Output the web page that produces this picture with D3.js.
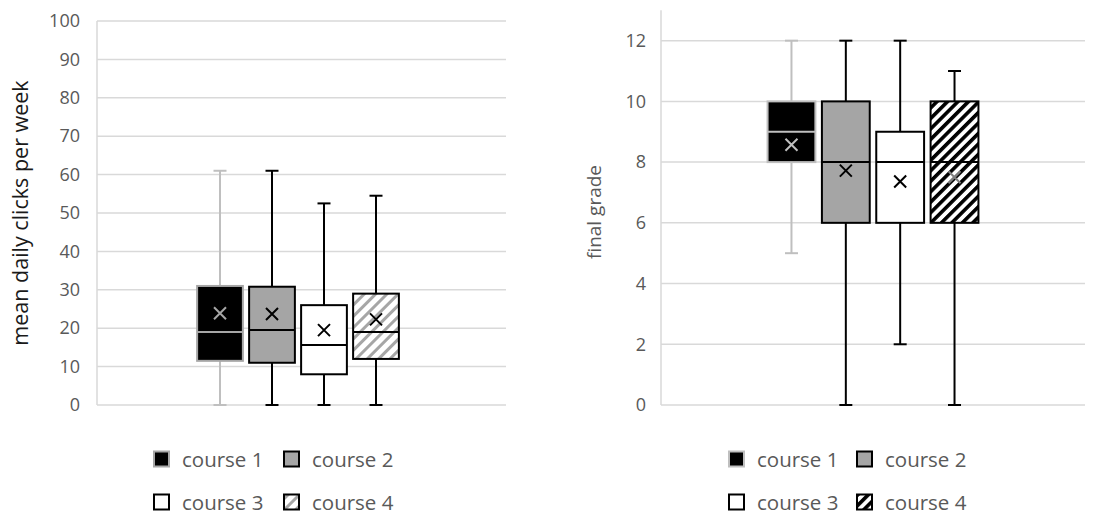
<!DOCTYPE html>
<html>
<head>
<meta charset="utf-8">
<script src="https://cdn.jsdelivr.net/npm/d3@7"></script>
<style>
  html, body { margin: 0; padding: 0; background: #ffffff; }
  svg { display: block; font-family: "Open Sans", sans-serif; }
</style>
</head>
<body>
<svg id="chart" width="1099" height="515"></svg>
<script>
// ---------- data ----------
const courses = ["course 1", "course 2", "course 3", "course 4"];

const clicksMin    = [0, 0, 0, 0];
const clicksQ1     = [11.5, 11, 8, 12];
const clicksMedian = [19, 19.5, 15.6, 19];
const clicksQ3     = [31, 30.8, 26, 29];
const clicksMax    = [61, 61, 52.5, 54.5];
const clicksMean   = [23.9, 23.7, 19.5, 22.3];
const clicksTicks  = [0, 10, 20, 30, 40, 50, 60, 70, 80, 90, 100];

const gradeMin    = [5, 0, 2, 0];
const gradeQ1     = [8, 6, 6, 6];
const gradeMedian = [9, 8, 8, 8];
const gradeQ3     = [10, 10, 9, 10];
const gradeMax    = [12, 12, 12, 11];
const gradeMean   = [8.57, 7.72, 7.36, 7.5];
const gradeTicks  = [0, 2, 4, 6, 8, 10, 12];

// ---------- drawing ----------
const svg = d3.select("#chart");
const defs = svg.append("defs");

defs.append("pattern").attr("id", "hatchLight")
  .attr("patternUnits", "userSpaceOnUse").attr("width", 8).attr("height", 8)
  .attr("patternTransform", "rotate(45)")
  .call(p => {
    p.append("rect").attr("width", 8).attr("height", 8).attr("fill", "#ffffff");
    p.append("rect").attr("width", 3).attr("height", 8).attr("fill", "#a6a6a6");
  });
defs.append("pattern").attr("id", "hatchDark")
  .attr("patternUnits", "userSpaceOnUse").attr("width", 7.4).attr("height", 7.4)
  .attr("patternTransform", "rotate(45)")
  .call(p => {
    p.append("rect").attr("width", 7.4).attr("height", 7.4).attr("fill", "#ffffff");
    p.append("rect").attr("width", 3.6).attr("height", 7.4).attr("fill", "#000000");
  });

function panel(cfg) {
  const g = svg.append("g");
  const y = d3.scaleLinear().domain(cfg.domain).range([cfg.bottom, cfg.top]);
  const x = d3.scaleBand().domain(courses)
    .range([cfg.cx - cfg.half, cfg.cx + cfg.half])
    .paddingInner(0.12).paddingOuter(0.06);
  const bw = x.bandwidth();

  // gridlines
  g.append("g").selectAll("line").data(cfg.ticks).join("line")
    .attr("x1", cfg.left).attr("x2", cfg.right)
    .attr("y1", d => y(d)).attr("y2", d => y(d))
    .attr("stroke", "#d9d9d9").attr("stroke-width", 1.5);
  // vertical axis line
  g.append("line").attr("x1", cfg.left).attr("x2", cfg.left)
    .attr("y1", y(cfg.domain[1])).attr("y2", y(0))
    .attr("stroke", "#d9d9d9").attr("stroke-width", 1.5);

  // tick labels via d3 axis
  const axis = d3.axisLeft(y).tickValues(cfg.ticks).tickSize(0).tickPadding(0);
  const ag = g.append("g").attr("transform", `translate(${cfg.labelX},0)`).call(axis);
  ag.select(".domain").remove();
  ag.selectAll("text").attr("fill", "#595959").attr("font-size", 18)
    .attr("font-family", "'Open Sans', sans-serif");

  // axis title
  g.append("text")
    .attr("transform", `translate(${cfg.titleX},${cfg.titleY}) rotate(-90)`)
    .attr("text-anchor", "middle").attr("dominant-baseline", "middle")
    .attr("font-size", cfg.titleSize).attr("fill", cfg.titleColor)
    .text(cfg.title);

  const st = cfg.styles;
  courses.forEach((c, i) => {
    const cx = x(c) + bw / 2;
    const s = st[i];
    const bg = g.append("g");
    // whiskers
    bg.append("line").attr("x1", cx).attr("x2", cx)
      .attr("y1", y(cfg.max[i])).attr("y2", y(cfg.q3[i]))
      .attr("stroke", s.whisker).attr("stroke-width", 2);
    bg.append("line").attr("x1", cx).attr("x2", cx)
      .attr("y1", y(cfg.q1[i])).attr("y2", y(cfg.min[i]))
      .attr("stroke", s.whisker).attr("stroke-width", 2);
    [cfg.max[i], cfg.min[i]].forEach(v => {
      bg.append("line").attr("x1", cx - 6.5).attr("x2", cx + 6.5)
        .attr("y1", y(v)).attr("y2", y(v))
        .attr("stroke", s.whisker).attr("stroke-width", 2);
    });
    // box
    bg.append("rect").attr("x", x(c)).attr("width", bw)
      .attr("y", y(cfg.q3[i])).attr("height", y(cfg.q1[i]) - y(cfg.q3[i]))
      .attr("fill", s.fill).attr("stroke", s.stroke).attr("stroke-width", 2);
    // median
    bg.append("line").attr("x1", x(c)).attr("x2", x(c) + bw)
      .attr("y1", y(cfg.median[i])).attr("y2", y(cfg.median[i]))
      .attr("stroke", s.stroke).attr("stroke-width", 2);
    // mean marker
    const my = y(cfg.mean[i]), r = 6;
    bg.append("path")
      .attr("d", `M${cx - r},${my - r}L${cx + r},${my + r}M${cx - r},${my + r}L${cx + r},${my - r}`)
      .attr("stroke", s.mean).attr("stroke-width", 2).attr("fill", "none");
  });

  // legend
  const lg = g.append("g");
  courses.forEach((c, i) => {
    const col = i % 2, row = Math.floor(i / 2);
    const lx = cfg.legX[col], ly = cfg.legY[row];
    const s = st[i];
    lg.append("rect").attr("x", lx).attr("y", ly - 7.5).attr("width", 15).attr("height", 15)
      .attr("fill", s.fill).attr("stroke", s.legStroke).attr("stroke-width", 2);
    lg.append("text").attr("x", lx + 28).attr("y", ly)
      .attr("dominant-baseline", "central")
      .attr("font-size", 20.5).attr("fill", "#595959").text(c);
  });
}

panel({
  domain: [0, 100], top: 21, bottom: 405, left: 97, right: 506,
  cx: 298, half: 104, ticks: clicksTicks, labelX: 80,
  min: clicksMin, q1: clicksQ1, median: clicksMedian, q3: clicksQ3, max: clicksMax, mean: clicksMean,
  title: "mean daily clicks per week", titleX: 22, titleY: 213, titleSize: 21.5, titleColor: "#1a1a1a",
  legX: [154, 284], legY: [459, 502],
  styles: [
    { fill: "#000000", stroke: "#a6a6a6", whisker: "#bfbfbf", mean: "#a6a6a6", legStroke: "#a6a6a6" },
    { fill: "#a5a5a5", stroke: "#000000", whisker: "#000000", mean: "#000000", legStroke: "#000000" },
    { fill: "#ffffff", stroke: "#000000", whisker: "#000000", mean: "#000000", legStroke: "#000000" },
    { fill: "url(#hatchLight)", stroke: "#000000", whisker: "#000000", mean: "#000000", legStroke: "#000000" }
  ]
});

panel({
  domain: [0, 13], top: 10.3, bottom: 405, left: 661, right: 1085,
  cx: 873, half: 108.7, ticks: gradeTicks, labelX: 646,
  min: gradeMin, q1: gradeQ1, median: gradeMedian, q3: gradeQ3, max: gradeMax, mean: gradeMean,
  title: "final grade", titleX: 596, titleY: 212, titleSize: 19, titleColor: "#595959",
  legX: [729, 857], legY: [459, 502],
  styles: [
    { fill: "#000000", stroke: "#bfbfbf", whisker: "#bfbfbf", mean: "#bfbfbf", legStroke: "#bfbfbf" },
    { fill: "#a5a5a5", stroke: "#000000", whisker: "#000000", mean: "#000000", legStroke: "#000000" },
    { fill: "#ffffff", stroke: "#000000", whisker: "#000000", mean: "#000000", legStroke: "#000000" },
    { fill: "url(#hatchDark)", stroke: "#000000", whisker: "#000000", mean: "#7f7f7f", legStroke: "#000000" }
  ]
});
</script>
</body>
</html>
